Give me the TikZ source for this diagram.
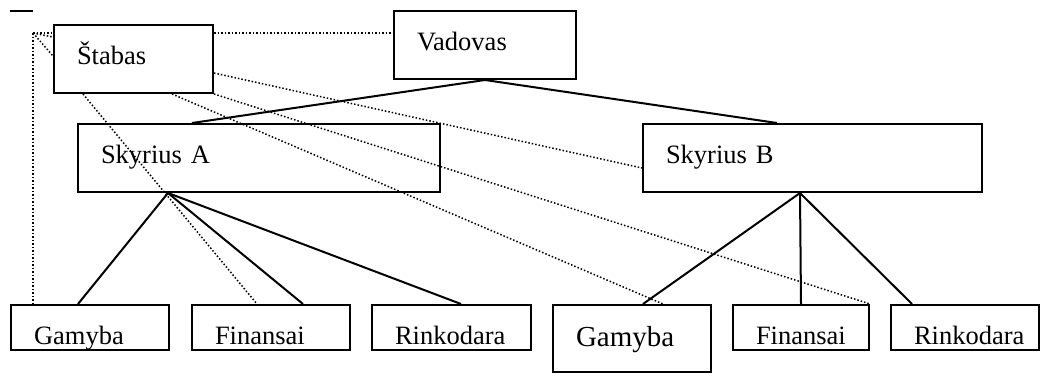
\documentclass[tikz,border=0pt]{standalone}
\usepackage{fontspec}
\setmainfont{Liberation Serif}
\usepackage{tikz}
\usetikzlibrary{calc}

\tikzset{
  unit/.style={draw, line width=2pt, anchor=north west, inner xsep=23pt, inner ysep=0pt,
    text height=39pt, align=left, font=\fontsize{26.5}{30}\selectfont},
  link/.style={line width=2pt},
  staff/.style={line width=1.5pt, dash pattern=on 1.5pt off 2pt},
}

\begin{document}
\begin{tikzpicture}[x=1pt, y=-1pt]
		\useasboundingbox (0,0) rectangle (1040,372);

		% top level
		\node[unit, text width=113pt, text depth=29pt] (stabas) at (53,24) {Štabas};
		\node[unit, text width=136pt, text depth=29pt] (vadovas) at (393,10) {Vadovas};

		% divisions
		\node[unit, text width=316pt, text depth=29pt] (skyrA) at (77,123) {Skyrius A};
		\node[unit, text width=293pt, text depth=29pt] (skyrB) at (642,123) {Skyrius B};

		% departments
		\node[unit, text width=112pt, text depth=6pt] (gamA) at (10,304) {Gamyba};
		\node[unit, text width=112pt, text depth=6pt] (finA) at (191,304) {Finansai};
		\node[unit, text width=113pt, text depth=6pt] (rinA) at (371,304) {Rinkodara};
		\node[unit, text width=112pt, text height=41pt, text depth=26pt,
			font=\fontsize{29}{32}\selectfont] (gamB) at (552,304) {Gamyba};
		\node[unit, text width=90pt, text depth=6pt] (finB) at (732,304) {Finansai};
		\node[unit, text width=102pt, text depth=6pt] (rinB) at (890,304) {Rinkodara};

		\draw[link] (10,11) -- (33,11);

		% line structure
		\draw[link] (vadovas.south) -- ($(skyrA.north west)+(115,0)$);
		\draw[link] (vadovas.south) -- ($(skyrB.north west)+(135,0)$);

		\coordinate (hubA) at ($(skyrA.south west)+(91,0)$);
		\coordinate (hubB) at ($(skyrB.south west)+(158,0)$);
		\draw[link] (hubA) -- ($(gamA.north west)+(68,0)$);
		\draw[link] (hubA) -- ($(finA.north west)+(112,0)$);
		\draw[link] (hubA) -- ($(rinA.north west)+(90,0)$);
		\draw[link] (hubB) -- ($(gamB.north west)+(91,0)$);
		\draw[link] (hubB) -- (finB.north);
		\draw[link] (hubB) -- ($(rinB.north west)+(22,0)$);

		% staff links
		\coordinate (fan) at ($(gamA.north west)+(23,-271)$);
		\draw[staff] (fan) -- ($(gamA.north west)+(23,0)$);
		\draw[staff] (fan) -- ($(stabas.north west)+(0,9)$);
		\draw[staff] (fan) -- ($(stabas.north west)+(0,13)$);
		\draw[staff] (fan) -- ($(stabas.north west)+(0,32)$);
		\draw[staff] ($(stabas.north east)+(0,9)$) -- ($(vadovas.north west)+(0,23)$);
		\draw[staff] ($(stabas.north east)+(0,49)$) -- ($(skyrB.north west)+(0,45)$);
		\draw[staff] (stabas.south east) -- (finB.north east);
		\draw[staff] ($(stabas.south west)+(119,0)$) -- ($(gamB.north west)+(111,0)$);
		\draw[staff] ($(stabas.south west)+(30,0)$) -- ($(finA.north west)+(66,0)$);
	\end{tikzpicture}
\end{document}
